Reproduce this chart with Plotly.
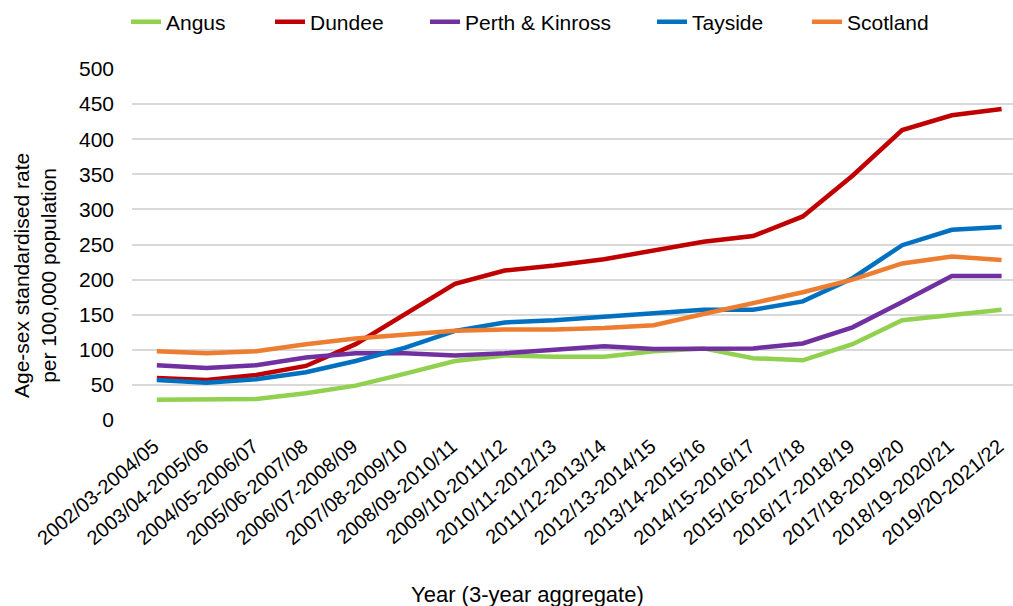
import plotly.graph_objects as go

categories = ["2002/03-2004/05", "2003/04-2005/06", "2004/05-2006/07", "2005/06-2007/08",
              "2006/07-2008/09", "2007/08-2009/10", "2008/09-2010/11", "2009/10-2011/12",
              "2010/11-2012/13", "2011/12-2013/14", "2012/13-2014/15", "2013/14-2015/16",
              "2014/15-2016/17", "2015/16-2017/18", "2016/17-2018/19", "2017/18-2019/20",
              "2018/19-2020/21", "2019/20-2021/22"]

angus = [29, 29, 30, 38, 49, 66, 84, 92, 90, 90, 98, 102, 88, 85, 108, 142, 150, 157]
dundee = [60, 57, 64, 77, 108, 151, 194, 213, 220, 229, 242, 254, 262, 290, 348, 413, 434, 443]
perth = [78, 74, 78, 89, 95, 95, 92, 95, 100, 105, 101, 102, 102, 109, 132, 168, 205, 205]
tayside = [57, 53, 58, 68, 84, 103, 127, 139, 142, 147, 152, 157, 157, 169, 202, 249, 271, 275]
scotland = [98, 95, 98, 108, 116, 122, 127, 129, 129, 131, 135, 151, 166, 182, 200, 223, 233, 228]

series_names = ["Angus", "Dundee", "Perth & Kinross", "Tayside", "Scotland"]
series_values = [angus, dundee, perth, tayside, scotland]
series_colors = ["#92D050", "#C00000", "#7030A0", "#0070C0", "#ED7D31"]

# plot area geometry (pixels)
L, R, T, B = 132, 0, 69, 186
W = 1013 - L - R
H = 606 - T - B

legend_px = [126, 270, 425, 652, 807]  # left edge of each legend entry

font = "Liberation Sans, Arial, sans-serif"
fig = go.Figure()
layout_legends = {}
for i, (name, vals, col) in enumerate(zip(series_names, series_values, series_colors)):
    lg = "legend" if i == 0 else f"legend{i+1}"
    fig.add_trace(go.Scatter(x=categories, y=vals, name=name, mode="lines",
                             line=dict(color=col, width=4.5), legend=lg, showlegend=True))
    layout_legends[lg] = dict(x=(legend_px[i] - L) / W, xanchor="left",
                              y=1 + (T - 22) / H, yanchor="middle",
                              font=dict(size=21, family=font, color="#000000"),
                              bgcolor="rgba(0,0,0,0)")

fig.update_layout(
    width=1013, height=606,
    showlegend=True,
    margin=dict(l=L, r=R, t=T, b=B),
    plot_bgcolor="white", paper_bgcolor="white",
    font=dict(family=font, color="#000000", size=21),
    xaxis=dict(type="category", range=[-0.5, 17.23], tickangle=-40,
               tickfont=dict(size=20), showgrid=False, zeroline=False,
               showline=False, ticks="", automargin=False, ticklabelstandoff=10,
               ticklabelshift=-3),
    yaxis=dict(range=[0, 500], dtick=50, gridcolor="#D9D9D9", gridwidth=1.5,
               zeroline=False, showline=False, tickfont=dict(size=21),
               automargin=False, ticklabelstandoff=17),
    annotations=[
        dict(text="Year (3-year aggregate)", xref="paper", yref="paper",
             x=(527 - L) / W, y=(T + H - 594) / H, xanchor="center", yanchor="middle",
             showarrow=False, font=dict(size=22, family=font, color="#000000")),
        dict(text="Age-sex standardised rate<br>per 100,000 population", xref="paper", yref="paper",
             x=(35 - L) / W, y=(T + H - 276) / H, xanchor="center", yanchor="middle",
             textangle=-90, showarrow=False, align="center",
             font=dict(size=21, family=font, color="#000000")),
    ],
    **layout_legends,
)

fig.write_html("out.html", config={"displayModeBar": False},
               post_script="document.body.style.margin='0px';document.body.style.overflow='hidden';")
